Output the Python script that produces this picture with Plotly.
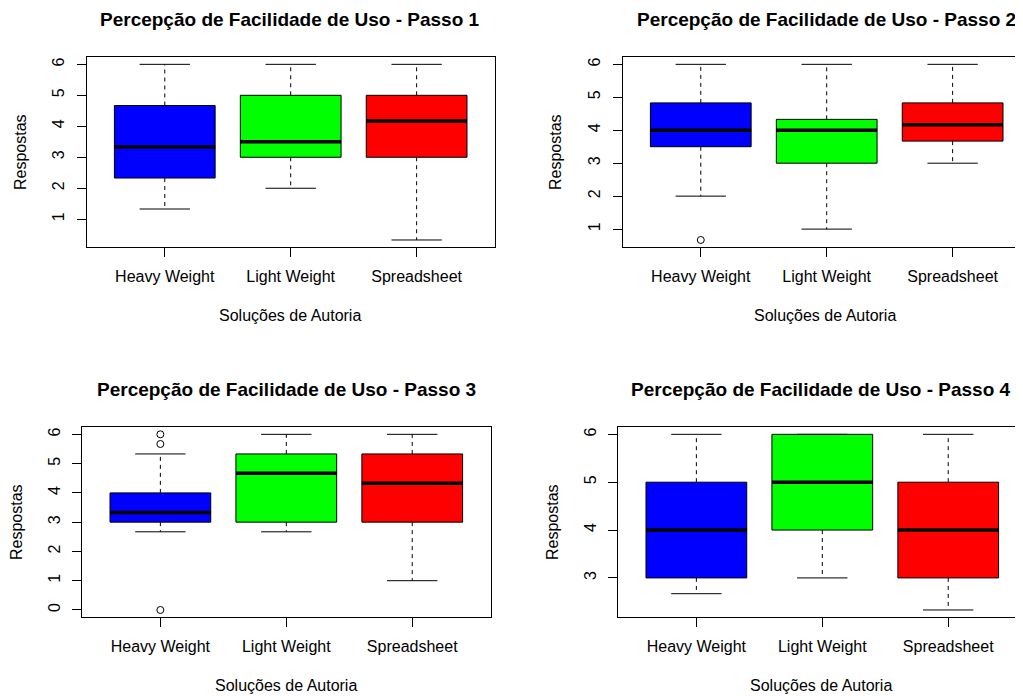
import plotly.graph_objects as go

# ---------------- data ----------------
categories = ["Heavy Weight", "Light Weight", "Spreadsheet"]
box_colors = ["#0000FF", "#00FF00", "#FF0000"]

p1_lower = [1.33, 2.0, 0.33]
p1_q1 = [2.33, 3.0, 3.0]
p1_median = [3.33, 3.5, 4.17]
p1_q3 = [4.67, 5.0, 5.0]
p1_upper = [6.0, 6.0, 6.0]
p1_outliers = [[], [], []]

p2_lower = [2.0, 1.0, 3.0]
p2_q1 = [3.5, 3.0, 3.67]
p2_median = [4.0, 4.0, 4.17]
p2_q3 = [4.83, 4.33, 4.83]
p2_upper = [6.0, 6.0, 6.0]
p2_outliers = [[0.67], [], []]

p3_lower = [2.67, 2.67, 1.0]
p3_q1 = [3.0, 3.0, 3.0]
p3_median = [3.33, 4.67, 4.33]
p3_q3 = [4.0, 5.33, 5.33]
p3_upper = [5.33, 6.0, 6.0]
p3_outliers = [[6.0, 5.67, 0.0], [], []]

p4_lower = [2.67, 3.0, 2.33]
p4_q1 = [3.0, 4.0, 3.0]
p4_median = [4.0, 5.0, 4.0]
p4_q3 = [5.0, 6.0, 5.0]
p4_upper = [6.0, 6.0, 6.0]
p4_outliers = [[], [], []]

titles = ["Percepção de Facilidade de Uso - Passo 1",
          "Percepção de Facilidade de Uso - Passo 2",
          "Percepção de Facilidade de Uso - Passo 3",
          "Percepção de Facilidade de Uso - Passo 4"]
x_title = "Soluções de Autoria"
y_title = "Respostas"

panels = [
    (p1_lower, p1_q1, p1_median, p1_q3, p1_upper, p1_outliers),
    (p2_lower, p2_q1, p2_median, p2_q3, p2_upper, p2_outliers),
    (p3_lower, p3_q1, p3_median, p3_q3, p3_upper, p3_outliers),
    (p4_lower, p4_q1, p4_median, p4_q3, p4_upper, p4_outliers),
]

# ---------------- layout geometry (window pixels) ----------------
OFF = 8  # default page body margin
WIN_W, WIN_H = 1023, 696
W, H = WIN_W - OFF, WIN_H - OFF
# plot frames: (left, right, top, bottom) in window px
frames = [
    (86.7, 494.7, 57.3, 247.0),
    (622.7, 1023.0, 57.3, 247.0),
    (82.3, 490.7, 427.3, 617.0),
    (618.3, 1023.0, 427.3, 617.0),
]
PX_PER_UNIT = 408.0 / 3.24
title_pos = [(290, 19), (826, 19), (286, 389), (821, 389)]
xlab_pos = [(290, 315), (825, 315), (286, 685), (821, 685)]
ylab_pos = [(20, 152), (555, 152), (16, 522), (552, 522)]


def px(xw):
    return (xw - OFF) / W


def py(yw):
    return 1 - (yw - OFF) / H


FONT = "Liberation Sans, Arial, sans-serif"
BOX_HALF = 0.4
CAP_HALF = 0.2

fig = go.Figure()
layout = dict(
    width=W, height=H,
    margin=dict(l=0, r=0, t=0, b=0),
    paper_bgcolor="white", plot_bgcolor="white",
    showlegend=False,
    font=dict(family=FONT, color="black", size=16),
    annotations=[],
)

for k, (lower, q1, med, q3, upper, outs) in enumerate(panels):
    n = k + 1
    xa = "x" if n == 1 else f"x{n}"
    ya = "y" if n == 1 else f"y{n}"
    positions = [i + 1 for i in range(len(categories))]

    for i, pos in enumerate(positions):
        fig.add_trace(go.Box(
            x=[pos], q1=[q1[i]], median=[med[i]], q3=[q3[i]],
            lowerfence=[q1[i]], upperfence=[q3[i]],
            width=2 * BOX_HALF, whiskerwidth=0,
            fillcolor=box_colors[i],
            line=dict(color="black", width=1),
            boxpoints=False, xaxis=xa, yaxis=ya, hoverinfo="skip",
        ))
        fig.add_trace(go.Scatter(
            x=[pos, pos, None, pos, pos],
            y=[q3[i], upper[i], None, q1[i], lower[i]],
            mode="lines", line=dict(color="black", width=1, dash="4px,4px"),
            xaxis=xa, yaxis=ya, hoverinfo="skip",
        ))
        fig.add_trace(go.Scatter(
            x=[pos - CAP_HALF, pos + CAP_HALF, None, pos - CAP_HALF, pos + CAP_HALF],
            y=[upper[i], upper[i], None, lower[i], lower[i]],
            mode="lines", line=dict(color="black", width=1),
            xaxis=xa, yaxis=ya, hoverinfo="skip",
        ))
        fig.add_trace(go.Scatter(
            x=[pos - BOX_HALF, pos + BOX_HALF], y=[med[i], med[i]],
            mode="lines", line=dict(color="black", width=3.5),
            xaxis=xa, yaxis=ya, hoverinfo="skip",
        ))
        if outs[i]:
            fig.add_trace(go.Scatter(
                x=[pos] * len(outs[i]), y=outs[i], mode="markers",
                marker=dict(symbol="circle-open", size=7, color="black",
                            line=dict(width=1, color="black")),
                xaxis=xa, yaxis=ya, hoverinfo="skip", cliponaxis=False,
            ))

    allv = lower + upper + [v for o in outs for v in o]
    lo, hi = min(allv), max(allv)
    ext = 0.04 * (hi - lo)
    left, right, top, bottom = frames[k]
    x_lo = 0.5 - 0.04 * 3
    x_hi = x_lo + (right - left) / PX_PER_UNIT
    is_left = (k % 2 == 0)

    layout["xaxis" if n == 1 else f"xaxis{n}"] = dict(
        domain=[px(left), min(1.0, px(right))], anchor=ya,
        range=[x_lo, x_hi], tickmode="array", tickvals=positions,
        ticktext=categories, ticks="outside", ticklen=9, tickcolor="black",
        showline=True, linecolor="black", linewidth=1, mirror=True,
        showgrid=False, zeroline=False, ticklabelstandoff=6,
        tickfont=dict(size=16, color="black"),
    )
    layout["yaxis" if n == 1 else f"yaxis{n}"] = dict(
        domain=[py(bottom), py(top)], anchor=xa,
        range=[lo - ext, hi + ext], dtick=1, tick0=0,
        ticks="outside", ticklen=9, tickcolor="black", tickangle=-90,
        showline=True, linecolor="black", linewidth=1, mirror=is_left,
        showgrid=False, zeroline=False, ticklabelstandoff=6,
        tickfont=dict(size=16, color="black"),
    )

    tx, ty = title_pos[k]
    layout["annotations"].append(dict(
        text=f"<b>{titles[k]}</b>", x=px(tx), y=py(ty), xref="paper", yref="paper",
        xanchor="center", yanchor="middle", showarrow=False,
        font=dict(size=19, color="black", family=FONT)))
    lx, ly = xlab_pos[k]
    layout["annotations"].append(dict(
        text=x_title, x=px(lx), y=py(ly), xref="paper", yref="paper",
        xanchor="center", yanchor="middle", showarrow=False,
        font=dict(size=16, color="black", family=FONT)))
    yx, yy = ylab_pos[k]
    layout["annotations"].append(dict(
        text=y_title, x=px(yx), y=py(yy), xref="paper", yref="paper",
        xanchor="center", yanchor="middle", showarrow=False, textangle=-90,
        font=dict(size=16, color="black", family=FONT)))

fig.update_layout(**layout)
fig.write_html("out.html")
